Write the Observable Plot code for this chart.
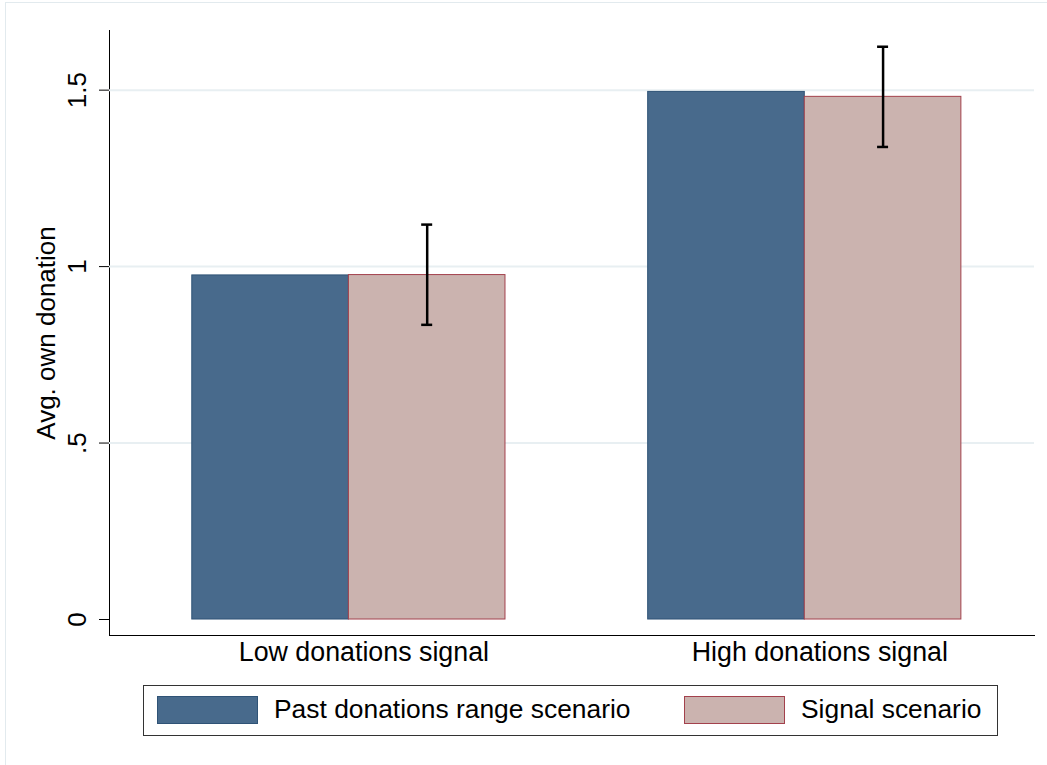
<!DOCTYPE html>
<html>
<head>
<meta charset="utf-8">
<script src="https://cdn.jsdelivr.net/npm/d3@7"></script>
<script src="https://cdn.jsdelivr.net/npm/@observablehq/plot@0.6"></script>
<style>
  body { margin: 0; background: #fff; overflow: hidden; font-family: Arial, "Liberation Sans", sans-serif; }
  #wrap { position: relative; width: 1047px; height: 765px; }
  #frame { position: absolute; left: 5px; top: 2px; width: 1100px; height: 800px;
           border-left: 1px solid #e2eaee; border-top: 1px solid #e2eaee; }
  #chart { position: absolute; left: 0; top: 0; }
  #legend { position: absolute; left: 143px; top: 685px; width: 855px; height: 51px;
            box-sizing: border-box; border: 1.5px solid #333; background: #fff; }
  .sw { position: absolute; top: 10px; width: 101px; height: 28px; box-sizing: border-box; border: 1px solid; }
  .lb { position: absolute; top: 8px; font-size: 26.4px; line-height: 30px; color: #000; }
</style>
</head>
<body>
<div id="wrap">
  <div id="frame"></div>
  <div id="chart"></div>
  <div id="legend"></div>
</div>
<script>
// groups on the x axis, the two scenarios within each group
const groups = ["Low donations signal", "High donations signal"]
const scenarios = ["Past donations range scenario", "Signal scenario"]
const pastMeans = [0.975, 1.495]
const signalMeans = [0.976, 1.481]
// confidence interval of the signal scenario
const signalLo = [0.835, 1.339]
const signalHi = [1.119, 1.623]
const yTicks = [0, 0.5, 1, 1.5]
const yTickLabels = ["0", ".5", "1", "1.5"]
const gridTicks = [0.5, 1, 1.5]
const yTitle = "Avg. own donation"

const fills = ["#486a8c", "#cbb3af"]
const strokes = ["#2f5376", "#a3414c"]

const W = 1047, H = 675
const mL = 109, mR = 13, mT = 30, mB = 40
const xOpts = {paddingInner: 0.313, paddingOuter: 0.171, align: 0.531}

const past = groups.map((g, i) => ({group: g, scenario: scenarios[0], value: pastMeans[i]}))
const signal = groups.map((g, i) => ({group: g, scenario: scenarios[1], value: signalMeans[i], lo: signalLo[i], hi: signalHi[i]}))

// same band scale as Plot, to split each band in two bars
const bw = d3.scaleBand().domain(groups).range([mL, W - mR])
  .paddingInner(xOpts.paddingInner).paddingOuter(xOpts.paddingOuter).align(xOpts.align).bandwidth()
const half = bw / 2
const capW = 11

let chart = Plot.plot({
  width: W,
  height: H,
  marginLeft: mL,
  marginRight: mR,
  marginTop: mT,
  marginBottom: mB,
  style: {fontFamily: "Arial, 'Liberation Sans', sans-serif", fontSize: "24px", color: "#000", background: "transparent"},
  x: {
    domain: groups,
    ...xOpts,
    round: false,
    tickSize: 0,
    tickFormat: () => "",
    line: true,
    label: null
  },
  y: {
    domain: [-0.0453, 1.669],
    ticks: yTicks,
    tickSize: 10,
    tickFormat: () => "",
    line: true,
    label: null
  },
  marks: [
    Plot.ruleY(gridTicks, {stroke: "#e8eff2", strokeWidth: 2}),
    Plot.barY(past, {x: "group", y1: 0, y2: "value", fill: fills[0], stroke: strokes[0], strokeWidth: 1, insetLeft: 0, insetRight: half}),
    Plot.barY(signal, {x: "group", y1: 0, y2: "value", fill: fills[1], stroke: strokes[1], strokeWidth: 1, insetLeft: half, insetRight: 0}),
    // error bars on the signal bars
    Plot.ruleX(signal, {x: "group", y1: "lo", y2: "hi", dx: bw / 4, stroke: "#000", strokeWidth: 2.5}),
    Plot.tickY(signal, {x: "group", y: "hi", dx: bw / 4, insetLeft: half - capW / 2, insetRight: half - capW / 2, stroke: "#000", strokeWidth: 2.5}),
    Plot.tickY(signal, {x: "group", y: "lo", dx: bw / 4, insetLeft: half - capW / 2, insetRight: half - capW / 2, stroke: "#000", strokeWidth: 2.5}),
    // rotated tick labels and axis title, Stata style
    Plot.text(yTicks, {y: d => d, text: (d, i) => yTickLabels[i], frameAnchor: "left", dx: -32, rotate: -90, textAnchor: "middle", lineAnchor: "middle", fontSize: 26}),
    Plot.text([yTitle], {text: d => d, frameAnchor: "left", dx: -63, rotate: -90, textAnchor: "middle", lineAnchor: "middle", fontSize: 26}),
    Plot.text(groups, {x: d => d, text: d => d, frameAnchor: "bottom", lineAnchor: "top", dy: 6, dx: 15, fontSize: 26.8})
  ]
})
d3.select('#chart').append(() => chart)

// legend below the chart
const leg = d3.select('#legend')
const swLeft = [13, 540]
const lbLeft = [130, 657]
scenarios.forEach((s, i) => {
  leg.append('div').attr('class', 'sw')
    .style('left', swLeft[i] + 'px').style('background', fills[i]).style('border-color', strokes[i])
  leg.append('div').attr('class', 'lb').style('left', lbLeft[i] + 'px').text(s)
})
</script>
</body>
</html>
